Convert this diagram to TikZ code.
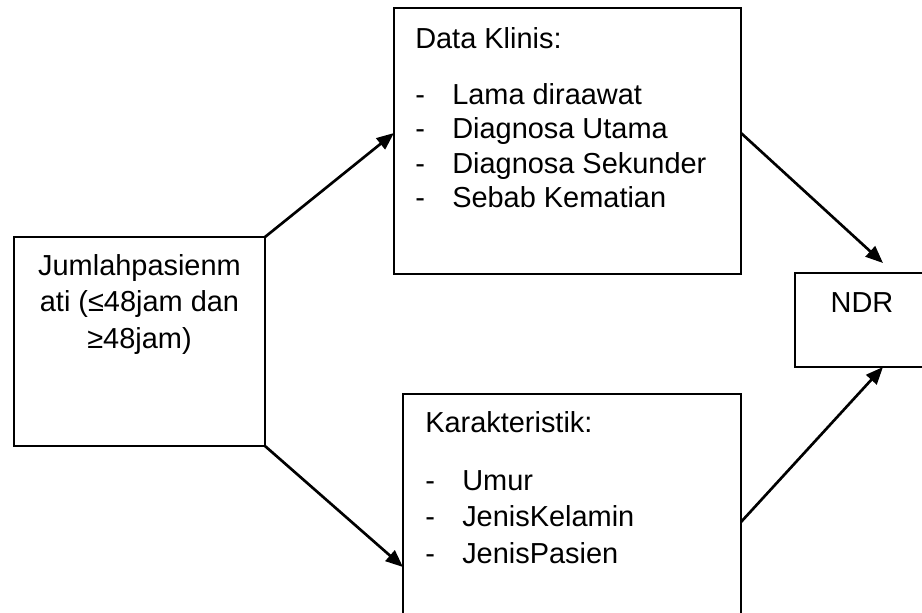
\documentclass[tikz,border=0pt]{standalone}
\usepackage{fontspec}
\setmainfont{Liberation Sans}
\usepackage{tikz}
\usetikzlibrary{arrows.meta,calc}

\tikzset{
  kotak/.style={draw, line width=1.5pt, rectangle, inner sep=0pt, outer sep=0pt, anchor=north west},
  teks/.style={anchor=base west, inner sep=0pt, font=\fontsize{21.7pt}{26pt}\selectfont},
  teksc/.style={teks, anchor=base},
  panah/.style={line width=2pt, -{Triangle[length=13pt,width=10.5pt]}}
}

\begin{document}
\begin{tikzpicture}[x=0.75pt,y=0.75pt,yscale=-1,xscale=1]
% page of 922 x 612, boxes running off the edge are cut
\path[use as bounding box, clip] (0,0) rectangle (922,612);

%Boxes
\node[kotak, minimum width=188.25pt, minimum height=156.75pt] (jumlah) at (14,237) {};
\node[kotak, minimum width=260.25pt, minimum height=199.5pt] (klinis) at (394,8) {};
\node[kotak, minimum width=253.5pt, minimum height=184.5pt] (karakter) at (403,394) {};
\node[kotak, minimum width=123.75pt, minimum height=70.5pt] (ndr) at (795,273) {};

% Text Node
\node[teksc] (jumlah-1) at (139.5,275) {Jumlahpasienm};
\node[teksc] (jumlah-2) at (139.5,311.5) {ati (≤48jam dan};
\node[teksc] (jumlah-3) at (139.5,348) {≥48jam)};

% Text Node
\node[teks] (klinis-judul) at (415,48) {Data Klinis:};
\node[teks] (klinis-s1) at (415,104) {-};
\node[teks] (klinis-1) at (452,104) {Lama diraawat};
\node[teks] (klinis-s2) at (415,138.5) {-};
\node[teks] (klinis-2) at (452,138.5) {Diagnosa Utama};
\node[teks] (klinis-s3) at (415,173) {-};
\node[teks] (klinis-3) at (452,173) {Diagnosa Sekunder};
\node[teks] (klinis-s4) at (415,207.5) {-};
\node[teks] (klinis-4) at (452,207.5) {Sebab Kematian};

% Text Node
\node[teks] (karakter-judul) at (425,432) {Karakteristik:};
\node[teks] (karakter-s1) at (425,490) {-};
\node[teks] (karakter-1) at (462,490) {Umur};
\node[teks] (karakter-s2) at (425,526.5) {-};
\node[teks] (karakter-2) at (462,526.5) {JenisKelamin};
\node[teks] (karakter-s3) at (425,563) {-};
\node[teks] (karakter-3) at (462,563) {JenisPasien};

% Text Node
\node[teksc] (ndr-teks) at (862,312) {NDR};

%Arrows
\draw[panah] (jumlah.north east) -- (klinis.west |- 0,133);
\draw[panah] (jumlah.south east) -- (karakter.west |- 0,567);
\draw[panah] (klinis.east |- 0,133) -- ($(ndr.north -| 883,0)+(0,-10)$);
\draw[panah] (karakter.east |- 0,522) -- (ndr.south -| 883,0);

\end{tikzpicture}
\end{document}
